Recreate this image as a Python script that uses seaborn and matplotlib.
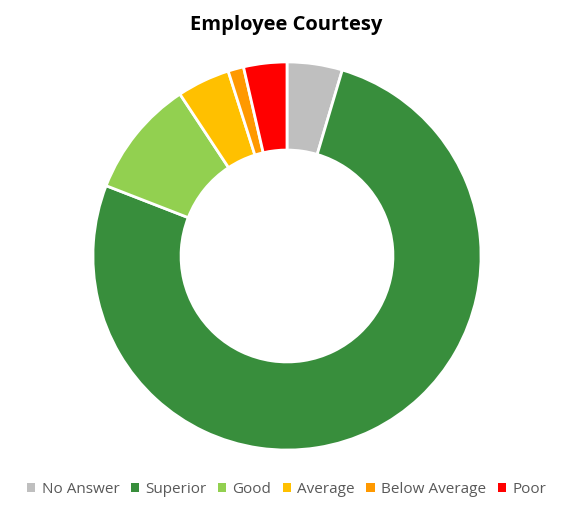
import seaborn as sns
import matplotlib.pyplot as plt
from matplotlib.patches import Patch

# survey answers (share of responses, %)
categories = ["No Answer", "Superior", "Good", "Average", "Below Average", "Poor"]
shares = [4.6, 76.3, 9.8, 4.4, 1.3, 3.6]
colors = ["#BFBFBF", "#388E3C", "#92D050", "#FFC000", "#FF9900", "#FF0000"]

sns.set_theme(style="white")
plt.rcParams["font.family"] = ["Open Sans", "DejaVu Sans"]

fig = plt.figure(figsize=(5.73, 5.11), dpi=100)
r = 196
ax = fig.add_axes([(287 - r) / 573, (255 - r) / 511, 2 * r / 573, 2 * r / 511])
ax.pie(shares, colors=colors, startangle=90, counterclock=False, radius=1,
       wedgeprops=dict(width=1 - 107 / 196, edgecolor="white", linewidth=2))
ax.set_xlim(-1.01, 1.01)
ax.set_ylim(-1.01, 1.01)
ax.set_aspect("equal")
ax.axis("off")

fig.text(0.5, 0.951, "Employee Courtesy", ha="center", va="center",
         fontsize=14.5, fontweight="bold", color="black")

handles = [Patch(facecolor=c, edgecolor="none") for c in colors]
fig.legend(handles, categories, loc="center", bbox_to_anchor=(0.5, 0.043), ncol=6,
           frameon=False, fontsize=11, handlelength=0.55, handleheight=0.55,
           handletextpad=0.4, columnspacing=0.75, labelcolor="#595959")

fig.savefig("out.png", dpi=100)
